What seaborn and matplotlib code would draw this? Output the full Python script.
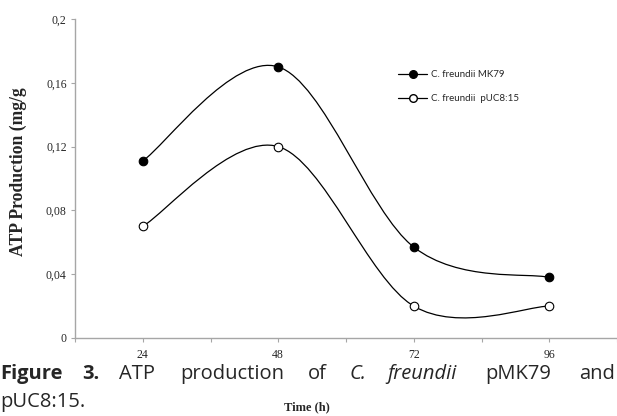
import numpy as np
import matplotlib
matplotlib.use("Agg")
import matplotlib.pyplot as plt
from matplotlib.path import Path
from matplotlib.patches import PathPatch
from matplotlib.lines import Line2D
import seaborn as sns

# data
time_h = [24, 48, 72, 96]
mk79 = [0.111, 0.170, 0.057, 0.038]
puc815 = [0.070, 0.120, 0.020, 0.020]
series_names = ["C. freundii MK79", "C. freundii  pUC8:15"]
y_ticks = [0, 0.04, 0.08, 0.12, 0.16, 0.2]
y_tick_labels = ["0", "0,04", "0,08", "0,12", "0,16", "0,2"]
x_ticks = [12, 24, 36, 48, 60, 72, 84, 96, 108]
x_tick_labels = ["", "24", "", "48", "", "72", "", "96", ""]

sns.set_style("ticks")
plt.rcParams["font.family"] = ["Liberation Serif", "DejaVu Sans"]


def smooth_path(xs, ys):
    # excel-like smoothed line: cubic bezier, control points from neighbours / 6
    pts = np.column_stack([xs, ys]).astype(float)
    n = len(pts)
    verts = [pts[0]]
    codes = [Path.MOVETO]
    for i in range(n - 1):
        p0 = pts[i - 1] if i > 0 else pts[i]
        p1 = pts[i]
        p2 = pts[i + 1]
        p3 = pts[i + 2] if i + 2 < n else pts[i + 1]
        c1 = p1 + (p2 - p0) / 6.0
        c2 = p2 - (p3 - p1) / 6.0
        verts += [c1, c2, p2]
        codes += [Path.CURVE4] * 3
    return Path(verts, codes)


fig = plt.figure(figsize=(6.17, 4.16), dpi=100)
ax = fig.add_axes([75 / 617, 1 - 338 / 416, 1 - 75 / 617, (338 - 19) / 416])

for ys in (mk79, puc815):
    ax.add_patch(PathPatch(smooth_path(time_h, ys), facecolor="none",
                           edgecolor="black", lw=0.9, zorder=2))

sns.scatterplot(x=time_h, y=mk79, ax=ax, color="black", edgecolor="black",
                s=38, linewidth=0.8, zorder=3, legend=False)
sns.scatterplot(x=time_h, y=puc815, ax=ax, color="white", edgecolor="black",
                s=38, linewidth=0.8, zorder=3, legend=False)

ax.set_xlim(12, 108)
ax.set_ylim(0, 0.2)
ax.set_xticks(x_ticks)
ax.set_xticklabels(x_tick_labels, fontsize=8.5)
ax.set_yticks(y_ticks)
ax.set_yticklabels(y_tick_labels, fontsize=8.5)
ax.tick_params(axis="both", length=3, width=0.8, color="#a6a6a6", pad=3)
ax.tick_params(axis="x", pad=5)
for side in ("top", "right"):
    ax.spines[side].set_visible(False)
for side in ("left", "bottom"):
    ax.spines[side].set_color("#a6a6a6")
    ax.spines[side].set_linewidth(1.0)

ax.set_ylabel("ATP Production (mg/g", fontsize=12.7, fontweight="bold")
ax.yaxis.set_label_coords((27 - 75) / 542, 0.52)

handles = [
    Line2D([], [], color="black", lw=0.9, marker="o", markersize=5.5,
           markerfacecolor="black", markeredgecolor="black"),
    Line2D([], [], color="black", lw=0.9, marker="o", markersize=5.5,
           markerfacecolor="white", markeredgecolor="black"),
]
leg = ax.legend(handles, series_names, loc="upper left",
                bbox_to_anchor=((398 - 75) / 542, 1 - (70 - 19) / 319),
                frameon=False, handlelength=3.0, handletextpad=0.35,
                borderpad=0, borderaxespad=0,
                labelspacing=1.55, prop={"family": "Lato", "size": 7})

# caption (justified line, word centres)
cap = "Open Sans"
fs = 14.5
y1 = 1 - 374 / 416
words = [
    (0, "Figure", "bold", "normal", "left"),
    (91, "3.", "bold", "normal", "center"),
    (137, "ATP", "normal", "normal", "center"),
    (232, "production", "normal", "normal", "center"),
    (317, "of", "normal", "normal", "center"),
    (358, "C.", "normal", "italic", "center"),
    (422, "freundii", "normal", "italic", "center"),
    (518, "pMK79", "normal", "normal", "center"),
    (615, "and", "normal", "normal", "right"),
]
for x, w, wt, st, ha in words:
    fig.text(x / 617, y1, w, family=cap, fontsize=fs, fontweight=wt,
             fontstyle=st, va="center", ha=ha)
fig.text(0, 1 - 402 / 416, "pUC8:15.", family=cap, fontsize=fs, va="center", ha="left")
fig.text(307 / 617, 1 - 407 / 416, "Time (h)", fontsize=9, fontweight="bold",
         va="center", ha="center")

fig.savefig("out.png", dpi=100)
